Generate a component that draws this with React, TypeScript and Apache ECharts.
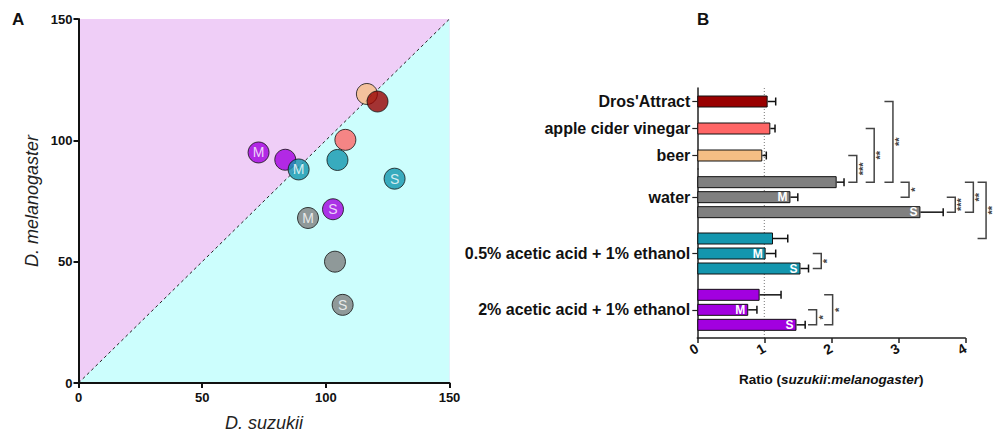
import React, { useEffect, useRef } from 'react';
import * as echarts from 'echarts';

// ---------- Panel A data ----------
const pointNames = [
  'beer', "Dros'Attract", 'apple cider vinegar', '0.5% acetic acid + 1% ethanol',
  '0.5% acetic acid + 1% ethanol S', '2% acetic acid + 1% ethanol M', '2% acetic acid + 1% ethanol',
  '0.5% acetic acid + 1% ethanol M', '2% acetic acid + 1% ethanol S', 'water M', 'water', 'water S',
];
const pointSuzukii = [116.6, 120.9, 107.9, 104.7, 127.8, 72.8, 83.6, 89.0, 102.9, 92.8, 103.7, 106.8];
const pointMelanogaster = [119.1, 116.0, 100.2, 91.9, 84.2, 95.0, 92.0, 88.0, 71.6, 68.0, 50.0, 32.2];
const pointTags = ['', '', '', '', 'S', 'M', '', 'M', 'S', 'M', '', 'S'];
const pointGroup = ['beer', 'dros', 'acv', 'low', 'low', 'high', 'high', 'low', 'high', 'water', 'water', 'water'];
const axisATicks = [0, 50, 100, 150];

// ---------- Panel B data ----------
const singleCategories = ["Dros'Attract", 'apple cider vinegar', 'beer'];
const singleMeans = [1.05, 1.09, 0.97];
const singleErr = [0.12, 0.07, 0.06];
const singleGroup = ['dros', 'acv', 'beer'];

const groupCategories = ['water', '0.5% acetic acid + 1% ethanol', '2% acetic acid + 1% ethanol'];
const groupKeys = ['water', 'low', 'high'];
const allMeans = [2.08, 1.13, 0.93];
const allErr = [0.11, 0.22, 0.32];
const mMeans = [1.39, 1.02, 0.76];
const mErr = [0.11, 0.15, 0.13];
const sMeans = [3.33, 1.54, 1.48];
const sErr = [0.34, 0.12, 0.13];
const ratioTicks = [0, 1, 2, 3, 4];

// significance brackets: [grid, category, sub(-1 all, 0 M, 1 S, or 0 for singles)]
const brackets = [
  { from: [0, 2, 0], to: [1, 0, -1], at: 2.38, stars: '***' },
  { from: [0, 1, 0], to: [1, 0, -1], at: 2.64, stars: '**' },
  { from: [0, 0, 0], to: [1, 0, -1], at: 2.92, stars: '**' },
  { from: [1, 0, -1], to: [1, 0, 0], at: 3.16, stars: '*' },
  { from: [1, 0, 0], to: [1, 0, 1], at: 3.85, stars: '***' },
  { from: [1, 0, -1], to: [1, 0, 1], at: 4.12, stars: '**' },
  { from: [1, 0, -1], to: [1, 1, -1], at: 4.31, stars: '**' },
  { from: [1, 1, 0], to: [1, 1, 1], at: 1.85, stars: '*' },
  { from: [1, 2, 0], to: [1, 2, 1], at: 1.78, stars: '*' },
  { from: [1, 2, -1], to: [1, 2, 1], at: 2.02, stars: '*' },
];

// ---------- styles ----------
const colors: Record<string, string> = {
  dros: '#990000',
  acv: '#FF6666',
  beer: '#F5BE84',
  water: '#808080',
  low: '#1396AE',
  high: '#A200E0',
};
const FONT = '"Liberation Sans", Arial, sans-serif';
const BAR_W = 12;
const SUB_STEP = 15;

export default function App() {
  const ref = useRef<HTMLDivElement>(null);
  useEffect(() => {
    document.body.style.margin = '0';
    const chart = echarts.init(ref.current!, null, { renderer: 'svg' });

    const errSeries = (grid: number, means: number[], errs: number[], offset: number) => ({
      type: 'custom',
      xAxisIndex: grid,
      yAxisIndex: grid,
      z: 4,
      silent: true,
      data: means.map((m, i) => [i, m, m + errs[i]]),
      encode: { x: [1, 2], y: 0 },
      renderItem: (params: any, api: any) => {
        const c = api.value(0);
        const a = api.coord([api.value(1), c]);
        const b = api.coord([api.value(2), c]);
        const y = a[1] + offset;
        return {
          type: 'group',
          children: [
            { type: 'line', shape: { x1: a[0], y1: y, x2: b[0], y2: y }, style: { stroke: '#111', lineWidth: 1.5 } },
            { type: 'line', shape: { x1: b[0], y1: y - 4, x2: b[0], y2: y + 4 }, style: { stroke: '#111', lineWidth: 1.5 } },
          ],
        };
      },
    });

    const barLabel = (tag: string) => ({
      show: true,
      position: 'insideRight',
      distance: 3,
      formatter: tag,
      color: '#fff',
      fontWeight: 'bold',
      fontSize: 12,
      fontFamily: FONT,
    });

    const yCat = (grid: number, data: string[]) => ({
      type: 'category',
      gridIndex: grid,
      data,
      inverse: true,
      axisLine: { show: true, lineStyle: { color: '#222', width: 1.5 } },
      axisTick: { show: true, alignWithLabel: true, length: 5, lineStyle: { color: '#222', width: 1.2 } },
      axisLabel: { color: '#111', fontSize: 16, fontWeight: 'bold', fontFamily: FONT, margin: 7 },
    });

    const option: any = {
      animation: false,
      textStyle: { fontFamily: FONT },
      grid: [
        { left: 697.3, width: 268, top: 88, height: 81 },
        { left: 697.3, width: 268, top: 169, height: 169 },
        { left: 78.5, width: 371, top: 19, height: 369.5, show: true, backgroundColor: '#EFCEF7', borderWidth: 0 },
      ],
      xAxis: [
        { type: 'value', gridIndex: 0, min: 0, max: 4, show: false },
        {
          type: 'value', gridIndex: 1, min: 0, max: 4, interval: 1,
          axisLine: { show: true, lineStyle: { color: '#222', width: 1.5 } },
          axisTick: { show: true, length: 5, lineStyle: { color: '#222', width: 1.5 } },
          splitLine: { show: false },
          axisLabel: {
            color: '#111', fontSize: 14, fontWeight: 'bold', fontFamily: FONT, rotate: 30, margin: 9,
            formatter: (v: number) => (ratioTicks.includes(v) ? String(v) : ''),
          },
          name: '{n|Ratio (}{i|suzukii}{n|:}{i|melanogaster}{n|)}',
          nameLocation: 'middle',
          nameGap: 34,
          nameTextStyle: {
            rich: {
              n: { fontSize: 13.5, fontWeight: 'bold', color: '#111', fontFamily: FONT },
              i: { fontSize: 13.5, fontWeight: 'bold', fontStyle: 'italic', color: '#111', fontFamily: FONT },
            },
          },
        },
        {
          type: 'value', gridIndex: 2, min: 0, max: 150, interval: 50, z: 10,
          axisLine: { show: true, lineStyle: { color: '#111', width: 2 } },
          axisTick: { show: true, length: 5, lineStyle: { color: '#111', width: 2 } },
          splitLine: { show: false },
          axisLabel: {
            color: '#111', fontSize: 13, fontWeight: 'bold', fontFamily: FONT, margin: 8,
            formatter: (v: number) => (axisATicks.includes(v) ? String(v) : ''),
          },
          name: 'D. suzukii',
          nameLocation: 'middle',
          nameGap: 31,
          nameTextStyle: { fontSize: 18, fontStyle: 'italic', color: '#222', fontFamily: FONT },
        },
      ],
      yAxis: [
        yCat(0, singleCategories),
        yCat(1, groupCategories),
        {
          type: 'value', gridIndex: 2, min: 0, max: 150, interval: 50, z: 10,
          axisLine: { show: true, lineStyle: { color: '#111', width: 2 } },
          axisTick: { show: true, length: 5, lineStyle: { color: '#111', width: 2 } },
          splitLine: { show: false },
          axisLabel: {
            color: '#111', fontSize: 13, fontWeight: 'bold', fontFamily: FONT, margin: 6,
            formatter: (v: number) => (axisATicks.includes(v) ? String(v) : ''),
          },
          name: 'D. melanogaster',
          nameLocation: 'middle',
          nameGap: 38,
          nameTextStyle: { fontSize: 18, fontStyle: 'italic', color: '#222', fontFamily: FONT },
        },
      ],
      series: [
        // Panel A
        {
          type: 'line',
          xAxisIndex: 2, yAxisIndex: 2,
          data: [[0, 0], [150, 150]],
          symbol: 'none',
          silent: true,
          lineStyle: { color: '#222', width: 1, type: [3, 3] },
          areaStyle: { color: '#CCFEFD', opacity: 1 },
          z: 1,
        },
        {
          type: 'scatter',
          xAxisIndex: 2, yAxisIndex: 2,
          symbolSize: 21,
          z: 3,
          data: pointSuzukii.map((x, i) => ({
            name: pointNames[i],
            value: [x, pointMelanogaster[i]],
            itemStyle: { color: colors[pointGroup[i]], borderColor: '#111', borderWidth: 1 },
            label: {
              show: !!pointTags[i], formatter: pointTags[i], position: 'inside',
              color: '#fff', fontSize: 14, fontFamily: FONT,
            },
          })),
        },
        // Panel B singles
        {
          type: 'bar',
          xAxisIndex: 0, yAxisIndex: 0,
          barWidth: BAR_W,
          data: singleMeans.map((m, i) => ({
            value: m,
            itemStyle: { color: colors[singleGroup[i]], borderColor: '#111', borderWidth: 1 },
          })),
        },
        errSeries(0, singleMeans, singleErr, 0),
        // Panel B groups
        {
          type: 'bar', name: 'all',
          xAxisIndex: 1, yAxisIndex: 1,
          barWidth: BAR_W, barGap: '25%',
          data: allMeans.map((m, i) => ({
            value: m, itemStyle: { color: colors[groupKeys[i]], borderColor: '#111', borderWidth: 1 },
          })),
        },
        {
          type: 'bar', name: 'M',
          xAxisIndex: 1, yAxisIndex: 1,
          barWidth: BAR_W, barGap: '25%',
          label: barLabel('M'),
          data: mMeans.map((m, i) => ({
            value: m, itemStyle: { color: colors[groupKeys[i]], borderColor: '#111', borderWidth: 1 },
          })),
        },
        {
          type: 'bar', name: 'S',
          xAxisIndex: 1, yAxisIndex: 1,
          barWidth: BAR_W, barGap: '25%',
          label: barLabel('S'),
          data: sMeans.map((m, i) => ({
            value: m, itemStyle: { color: colors[groupKeys[i]], borderColor: '#111', borderWidth: 1 },
          })),
        },
        errSeries(1, allMeans, allErr, -SUB_STEP),
        errSeries(1, mMeans, mErr, 0),
        errSeries(1, sMeans, sErr, SUB_STEP),
      ],
    };
    chart.setOption(option);

    // annotations computed through the axes
    const px = (ref3: number[], xv: number) => {
      const p = chart.convertToPixel({ gridIndex: ref3[0] }, [xv, ref3[1]]) as number[];
      return [p[0], p[1] + ref3[2] * SUB_STEP];
    };
    const graphics: any[] = [
      { type: 'text', x: 12, y: 11, style: { text: 'A', fontSize: 17, fontWeight: 'bold', fill: '#111', fontFamily: FONT } },
      { type: 'text', x: 697, y: 11, style: { text: 'B', fontSize: 17, fontWeight: 'bold', fill: '#111', fontFamily: FONT } },
    ];
    // dotted reference line at ratio 1
    const topP = chart.convertToPixel({ gridIndex: 0 }, [1, 0]) as number[];
    const botP = chart.convertToPixel({ gridIndex: 1 }, [1, 2]) as number[];
    graphics.push({
      type: 'line', z: -1,
      shape: { x1: topP[0], y1: 88, x2: botP[0], y2: 338 },
      style: { stroke: '#777', lineWidth: 1, lineDash: [1, 2] },
    });
    brackets.forEach((b) => {
      const p1 = px(b.from, b.at);
      const p2 = px(b.to, b.at);
      const arm = 8.5;
      graphics.push({
        type: 'polyline', z: 5,
        shape: { points: [[p1[0] - arm, p1[1]], [p1[0], p1[1]], [p2[0], p2[1]], [p2[0] - arm, p2[1]]] },
        style: { stroke: '#444', lineWidth: 1.5, fill: null },
      });
      graphics.push({
        type: 'text', z: 5,
        x: p1[0] + 6, y: (p1[1] + p2[1]) / 2,
        rotation: Math.PI / 2,
        style: {
          text: b.stars, fontSize: 11, lineHeight: 8, fontWeight: 'bold', fill: '#444',
          align: 'center', verticalAlign: 'middle', fontFamily: FONT,
        },
      });
    });
    chart.setOption({ graphic: graphics });

    return () => chart.dispose();
  }, []);
  return <div ref={ref} style={{ width: 997, height: 437 }} />;
}
